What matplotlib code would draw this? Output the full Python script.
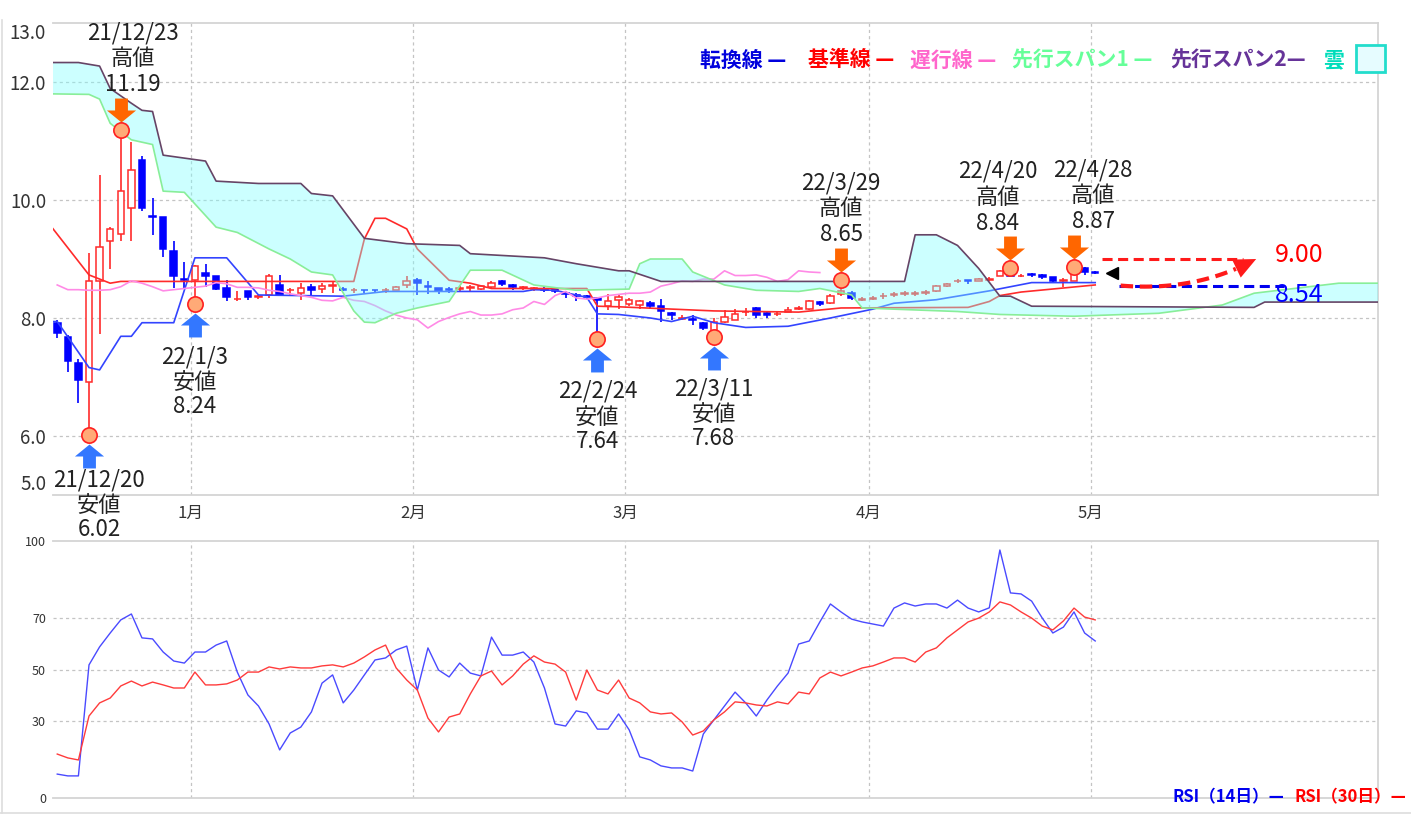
import numpy as np
import pandas as pd
import matplotlib
matplotlib.use("Agg")
import matplotlib.pyplot as plt
from matplotlib.path import Path
from matplotlib import transforms
from matplotlib.patches import Rectangle, Polygon
from matplotlib.lines import Line2D

plt.rcParams['font.family'] = ['Noto Sans CJK JP', 'DejaVu Sans']

# ---------------- data ----------------
start_date = '2021-12-15'
opens = [7.92, 7.68, 7.23, 6.91, 8.63, 9.31, 9.43, 9.87, 10.68, 9.73,
         9.71, 9.13, 8.66, 8.64, 8.77, 8.72, 8.50, 8.32, 8.45, 8.36,
         8.39, 8.56, 8.47, 8.42, 8.52, 8.50, 8.55, 8.49, 8.47, 8.48,
         8.48, 8.47, 8.47, 8.56, 8.64, 8.54, 8.50, 8.49, 8.49, 8.51,
         8.50, 8.52, 8.63, 8.56, 8.51, 8.50, 8.49, 8.49, 8.42, 8.39,
         8.38, 8.34, 8.20, 8.30, 8.24, 8.22, 8.25, 8.21, 8.08, 7.99,
         7.98, 7.92, 7.73, 7.93, 7.97, 8.10, 8.17, 8.08, 8.06, 8.10,
         8.16, 8.16, 8.27, 8.25, 8.40, 8.42, 8.31, 8.33, 8.37, 8.39,
         8.41, 8.41, 8.43, 8.45, 8.54, 8.62, 8.64, 8.63, 8.65, 8.72,
         8.81, 8.71, 8.74, 8.73, 8.69, 8.63, 8.63, 8.84, 8.78]
highs = [7.96, 7.72, 7.30, 9.10, 10.42, 9.54, 11.19, 10.99, 10.74, 10.04,
         9.71, 9.31, 8.95, 8.90, 8.91, 8.72, 8.64, 8.45, 8.45, 8.39,
         8.74, 8.73, 8.50, 8.59, 8.58, 8.59, 8.63, 8.52, 8.51, 8.48,
         8.48, 8.50, 8.55, 8.71, 8.67, 8.62, 8.51, 8.53, 8.54, 8.56,
         8.55, 8.62, 8.65, 8.58, 8.55, 8.53, 8.52, 8.50, 8.45, 8.42,
         8.39, 8.35, 8.41, 8.41, 8.34, 8.31, 8.29, 8.32, 8.10, 8.05,
         8.05, 7.94, 8.00, 8.14, 8.16, 8.17, 8.18, 8.11, 8.10, 8.18,
         8.20, 8.30, 8.29, 8.40, 8.65, 8.46, 8.36, 8.38, 8.42, 8.44,
         8.46, 8.46, 8.48, 8.56, 8.60, 8.66, 8.65, 8.67, 8.69, 8.81,
         8.84, 8.74, 8.76, 8.75, 8.70, 8.67, 8.87, 8.87, 8.79]
lows = [7.66, 7.08, 6.56, 6.02, 7.73, 8.83, 9.31, 9.31, 9.82, 9.40,
        9.03, 8.50, 8.50, 8.24, 8.53, 8.47, 8.29, 8.28, 8.31, 8.33,
        8.34, 8.39, 8.39, 8.31, 8.39, 8.42, 8.42, 8.45, 8.42, 8.42,
        8.42, 8.42, 8.47, 8.50, 8.39, 8.40, 8.40, 8.42, 8.45, 8.46,
        8.48, 8.49, 8.54, 8.47, 8.47, 8.46, 8.44, 8.43, 8.34, 8.29,
        8.33, 7.64, 8.14, 8.15, 8.20, 8.16, 8.16, 7.94, 7.97, 7.96,
        7.88, 7.80, 7.68, 7.92, 7.97, 8.04, 8.00, 8.00, 8.03, 8.10,
        8.13, 8.14, 8.20, 8.24, 8.38, 8.30, 8.28, 8.30, 8.33, 8.35,
        8.37, 8.38, 8.39, 8.44, 8.53, 8.60, 8.58, 8.62, 8.63, 8.71,
        8.70, 8.69, 8.70, 8.66, 8.60, 8.52, 8.62, 8.73, 8.74]
closes = [7.75, 7.27, 6.95, 8.62, 9.20, 9.51, 10.15, 10.50, 9.86, 9.71,
          9.17, 8.72, 8.64, 8.88, 8.72, 8.49, 8.35, 8.33, 8.35, 8.37,
          8.71, 8.39, 8.48, 8.51, 8.48, 8.54, 8.56, 8.48, 8.48, 8.47,
          8.47, 8.48, 8.53, 8.63, 8.59, 8.53, 8.46, 8.48, 8.50, 8.52,
          8.54, 8.60, 8.58, 8.52, 8.52, 8.51, 8.47, 8.45, 8.41, 8.38,
          8.35, 8.30, 8.29, 8.35, 8.30, 8.28, 8.21, 8.12, 8.05, 8.00,
          7.97, 7.83, 7.94, 8.01, 8.07, 8.11, 8.05, 8.05, 8.07, 8.14,
          8.17, 8.28, 8.23, 8.38, 8.45, 8.34, 8.32, 8.34, 8.38, 8.40,
          8.42, 8.42, 8.44, 8.54, 8.58, 8.63, 8.62, 8.66, 8.66, 8.80,
          8.72, 8.72, 8.73, 8.69, 8.62, 8.65, 8.80, 8.78, 8.77]

# Ichimoku lines (day index, value)
tenkan_idx = [-1, 0, 3, 4, 6, 7, 8, 11, 13, 16, 19, 27, 31, 44, 45, 47, 50, 51, 53, 56,
              58, 60, 62, 65, 69, 73, 77, 79, 83, 88, 92, 98]
tenkan_val = [7.94, 7.94, 7.16, 7.12, 7.69, 7.69, 7.92, 7.92, 9.02, 9.02, 8.39, 8.37, 8.45, 8.45,
              8.48, 8.47, 8.35, 8.07, 8.06, 8.00, 7.94, 8.03, 7.92, 7.84, 7.86, 8.00, 8.15, 8.25,
              8.31, 8.46, 8.60, 8.60]
kijun_idx = [-1, 3, 5, 6, 28, 29, 30, 31, 33, 34, 37, 39, 41, 50, 51, 53, 62, 70, 74, 86,
             88, 89, 91, 98]
kijun_val = [9.65, 8.73, 8.59, 8.62, 8.62, 9.34, 9.69, 9.69, 9.51, 9.17, 8.64, 8.59, 8.50, 8.50,
             8.20, 8.19, 8.12, 8.10, 8.17, 8.18, 8.28, 8.38, 8.44, 8.56]
spanA_idx = [-1, 3, 4, 5, 7, 9, 10, 12, 15, 17, 20, 22, 24, 26, 28, 29, 30, 32, 34, 37,
             39, 42, 45, 49, 54, 55, 56, 59, 60, 63, 66, 70, 72, 75, 76, 85, 89, 96, 104, 110,
             113, 121, 125]
spanA_val = [11.80, 11.79, 11.71, 11.30, 11.02, 10.94, 10.15, 10.13, 9.54, 9.45, 9.17, 9.00,
             8.78, 8.73, 8.12, 7.93, 7.92, 8.08, 8.17, 8.28, 8.81, 8.81, 8.56, 8.47, 8.49, 8.92,
             9.00, 9.00, 8.78, 8.56, 8.47, 8.45, 8.50, 8.39, 8.17, 8.11, 8.06, 8.03, 8.08, 8.22,
             8.42, 8.59, 8.59]
spanB_idx = [-1, 2, 4, 5, 7, 8, 9, 10, 12, 14, 15, 19, 23, 24, 26, 29, 33, 38, 39, 46,
             49, 53, 54, 57, 80, 81, 83, 85, 87, 89, 90, 92, 113, 114, 125]
spanB_val = [12.33, 12.33, 12.27, 11.89, 11.64, 11.52, 11.50, 10.76, 10.71, 10.66, 10.32, 10.28,
             10.28, 10.11, 10.07, 9.35, 9.26, 9.23, 9.09, 9.02, 8.92, 8.80, 8.80, 8.62, 8.62,
             9.41, 9.41, 9.23, 8.84, 8.37, 8.37, 8.20, 8.18, 8.27, 8.27]
chikou_shift = 26

rsi14 = [9.3, 8.6, 8.6, 51.8, 58.8, 64.2, 69.3, 71.6, 62.3, 61.9,
         56.8, 53.3, 52.5, 56.8, 56.8, 59.5, 61.1, 49.0, 40.1, 35.8,
         28.8, 18.7, 25.3, 27.6, 33.5, 44.7, 47.9, 37.0, 42.0, 47.9,
         53.7, 54.5, 57.6, 59.1, 42.0, 58.4, 49.8, 47.1, 52.5, 48.6,
         47.5, 62.6, 55.6, 55.6, 56.8, 52.9, 42.8, 28.8, 28.0, 33.9,
         33.1, 26.8, 26.8, 32.7, 26.5, 16.0, 14.8, 12.5, 11.7, 11.7,
         10.5, 24.9, 30.4, 35.8, 41.2, 37.0, 31.9, 38.1, 43.6, 48.6,
         59.9, 61.1, 68.5, 75.5, 72.4, 69.6, 68.5, 67.7, 66.9, 73.9,
         75.9, 74.7, 75.5, 75.5, 73.9, 77.0, 73.9, 72.4, 74.0, 96.5,
         79.8, 79.4, 76.6, 70.0, 64.2, 66.5, 72.4, 64.2, 61.1]
rsi30 = [17.1, 15.6, 14.8, 31.9, 37.0, 38.9, 43.6, 45.5, 43.6, 45.1,
         44.0, 42.8, 42.8, 49.0, 44.0, 44.0, 44.4, 45.9, 49.0, 49.0,
         51.0, 50.2, 51.0, 50.6, 50.6, 51.4, 51.8, 51.0, 52.5, 54.9,
         57.6, 59.5, 50.6, 45.9, 42.0, 31.1, 25.7, 31.5, 32.7, 40.5,
         47.5, 49.4, 44.0, 47.5, 52.1, 55.3, 52.9, 52.1, 49.0, 38.1,
         49.8, 42.0, 40.5, 45.9, 38.9, 37.0, 33.5, 32.7, 33.1, 29.6,
         24.5, 26.1, 30.4, 33.5, 37.4, 37.0, 36.2, 35.8, 37.4, 36.6,
         41.2, 40.5, 46.7, 49.0, 47.5, 49.0, 50.6, 51.4, 52.9, 54.5,
         54.5, 52.9, 56.8, 58.4, 62.3, 65.4, 68.5, 70.0, 72.4, 76.3,
         75.1, 72.4, 70.0, 66.9, 65.4, 68.9, 73.9, 70.4, 69.3]

high_dates = ['21/12/23', '22/3/29', '22/4/20', '22/4/28']
high_vals = [11.19, 8.65, 8.84, 8.87]
low_dates = ['21/12/20', '22/1/3', '22/2/24', '22/3/11']
low_vals = [6.02, 8.24, 7.64, 7.68]

forecast_high = 9.00
forecast_low = 8.54

month_labels = ['1月', '2月', '3月', '4月', '5月']
price_ticks = [5, 6, 8, 10, 12, 13]
price_grid = [6, 8, 10, 12]
rsi_ticks = [0, 30, 50, 70, 100]
rsi_grid = [30, 50, 70]

# ---------------- figure ----------------
W, H = 1411, 822
fig = plt.figure(figsize=(W / 100, H / 100), dpi=100)
fig.patch.set_facecolor('white')

def fx(px):
    return px / W

def fy(py):
    return 1 - py / H

ax = fig.add_axes([fx(53), fy(495), fx(1378) - fx(53), fy(23) - fy(495)])
rx = fig.add_axes([fx(53), fy(798), fx(1378) - fx(53), fy(541) - fy(798)])

n = len(closes)
idx = np.arange(n)
o = np.array(opens); h = np.array(highs); l = np.array(lows); c = np.array(closes)
dates = pd.bdate_range(start_date, periods=n)

XLIM = (-0.4, 124.7)
for a in (ax, rx):
    a.set_xlim(*XLIM)
    a.set_facecolor('white')
    a.spines['left'].set_visible(False)
    for s in ('top', 'bottom', 'right'):
        a.spines[s].set_color('#d4d4d4')
        a.spines[s].set_linewidth(1.3)
    a.tick_params(length=0)

ax.set_ylim(5, 13)
rx.set_ylim(0, 100)

# month grid positions (just before first trading day of each month)
month_first = []
for k in range(1, n):
    if dates[k].month != dates[k - 1].month:
        month_first.append(k)
month_pos = [k - 0.4 for k in month_first]

grid_kw = dict(color='#c4c4c4', lw=0.9, ls=(0, (2.5, 2.5)), zorder=1)
for g in price_grid:
    ax.axhline(g, **grid_kw)
for g in rsi_grid:
    rx.axhline(g, **grid_kw)
for mp in month_pos:
    ax.axvline(mp, **grid_kw)
    rx.axvline(mp, **grid_kw)

# candles
up = c >= o
ecol = np.where(up, '#ff2a2a', '#0000ff')
fcol = np.where(up, '#ffffff', '#0000ff')
ax.vlines(idx, l, h, colors=ecol, lw=1.2, zorder=2)
body = np.maximum(np.abs(c - o), 0.004)
ax.bar(idx, body, bottom=np.minimum(o, c), width=0.62, color=fcol,
       edgecolor=ecol, linewidth=1.1, zorder=3)

# ichimoku lines
ax.plot(tenkan_idx, tenkan_val, color='#3344ff', lw=1.2, zorder=3.5)
ax.plot(kijun_idx, kijun_val, color='#ff2a2a', lw=1.2, zorder=3.5)
ax.plot(idx[chikou_shift:] - chikou_shift, c[chikou_shift:], color='#ff8ae6', lw=1.2, zorder=3.5)

# cloud
ax.fill(np.r_[spanA_idx, spanB_idx[::-1]], np.r_[spanA_val, spanB_val[::-1]],
        color='#80ffff', alpha=0.4, lw=0, zorder=4)
ax.plot(spanA_idx, spanA_val, color='#88ee99', lw=1.2, zorder=5)
ax.plot(spanB_idx, spanB_val, color='#664466', lw=1.2, zorder=5)

# markers / arrows / labels
down_arrow = Path([(-0.22, 0.41), (0.22, 0.41), (0.22, 0.0), (0.5, 0.0), (0.0, -0.41),
                   (-0.5, 0.0), (-0.22, 0.0), (-0.22, 0.41)],
                  [Path.MOVETO] + [Path.LINETO] * 6 + [Path.CLOSEPOLY])
up_arrow = Path([(x, -y) for x, y in down_arrow.vertices], down_arrow.codes)

tr_up = transforms.offset_copy(ax.transData, fig=fig, x=0, y=20, units='dots')
tr_dn = transforms.offset_copy(ax.transData, fig=fig, x=0, y=-21, units='dots')

def pos_of(dstr):
    d = pd.Timestamp('20' + dstr.replace('/', '-'))
    return int(dates.get_loc(d))

lab_kw = dict(textcoords='offset pixels', ha='center', va='center', fontsize=16,
              color='#222222', annotation_clip=False, zorder=8)

high_dx = [12, 0, -13, 19]
for dstr, v, dx in zip(high_dates, high_vals, high_dx):
    x = pos_of(dstr)
    ax.plot(x, v, marker=down_arrow, ms=21, color='#ff6600', mec='none', ls='none',
            transform=tr_up, zorder=7, clip_on=False)
    ax.plot(x, v, 'o', ms=11, mfc='#ffaa77', mec='#ff2020', mew=1.2, zorder=7, clip_on=False)
    ax.annotate(f'{v:.2f}', (x, v), xytext=(dx, 45), **lab_kw)
    ax.annotate('高値', (x, v), xytext=(dx, 71), **lab_kw)
    ax.annotate(dstr, (x, v), xytext=(dx, 97), **lab_kw)

low_dx = [10, 0, 0, 0]
low_dy = [-45, -53, -52, -52]
for dstr, v, dx, dy in zip(low_dates, low_vals, low_dx, low_dy):
    x = pos_of(dstr)
    ax.plot(x, v, marker=up_arrow, ms=21, color='#3377ff', mec='none', ls='none',
            transform=tr_dn, zorder=7, clip_on=False)
    ax.plot(x, v, 'o', ms=11, mfc='#ffaa77', mec='#ff2020', mew=1.2, zorder=7, clip_on=False)
    ax.annotate(dstr, (x, v), xytext=(dx, dy), **lab_kw)
    ax.annotate('安値', (x, v), xytext=(dx, dy - 26), **lab_kw)
    ax.annotate(f'{v:.2f}', (x, v), xytext=(dx, dy - 50), **lab_kw)

# forecast decoration
last = n - 1
ax.plot(last + 1.6, c[-1], marker='<', color='black', ms=9, zorder=8)
ax.hlines(forecast_high, last + 0.6, last + 14.0, colors='#ff1a1a', lw=2.2,
          linestyles=(0, (3.3, 1.8)), zorder=8)
ax.hlines(forecast_low, last + 2.2, last + 17.8, colors='#0000ee', lw=2.2,
          linestyles=(0, (3.3, 1.8)), zorder=8)
t = np.linspace(0, 1, 80)
P0 = np.array([last + 2.4, forecast_low + 0.01])
P1 = np.array([last + 9.5, forecast_low - 0.10])
P2 = np.array([last + 15.2, forecast_high])
bez = ((1 - t) ** 2)[:, None] * P0 + (2 * (1 - t) * t)[:, None] * P1 + (t ** 2)[:, None] * P2

# arrow head built in pixel space, converted back to data space
bez_px = ax.transData.transform(bez)
tip = bez_px[-1]
dist = np.hypot(*(bez_px - tip).T)
head_len, head_half = 22.0, 10.0
cut = np.where(dist >= head_len)[0][-1]
dvec = tip - bez_px[cut]
dvec /= np.linalg.norm(dvec)
nvec = np.array([-dvec[1], dvec[0]])
base = tip - dvec * head_len
tri_px = np.array([tip, base + nvec * head_half, base - nvec * head_half])
tri = ax.transData.inverted().transform(tri_px)
ax.plot(bez[:cut + 1, 0], bez[:cut + 1, 1], color='#ff1a1a', lw=3, ls=(0, (3, 1.6)),
        zorder=8, solid_capstyle='butt', clip_on=False)
ax.add_patch(Polygon(tri, closed=True, facecolor='#ff1a1a', edgecolor='none', zorder=8,
                     clip_on=False))

ax.annotate(f'{forecast_high:.2f}', (last + 17, forecast_high), xytext=(0, 4),
            textcoords='offset pixels', ha='left', va='center', fontsize=18, color='#ff0000',
            annotation_clip=False, zorder=9)
ax.annotate(f'{forecast_low:.2f}', (last + 17, forecast_low), xytext=(0, -9),
            textcoords='offset pixels', ha='left', va='center', fontsize=18, color='#0000ff',
            annotation_clip=False, zorder=9)

# ticks
ax.set_yticks(price_ticks)
ax.set_yticklabels([f'{v:.1f}' for v in price_ticks], fontsize=13.5, color='#333333')
ylabs = ax.get_yticklabels()
ylabs[0].set_va('bottom')
ylabs[-1].set_va('top')
ax.tick_params(axis='y', pad=5)
ax.set_xticks(month_pos)
ax.set_xticklabels(month_labels, fontsize=12, color='#333333')
ax.tick_params(axis='x', pad=7)

rx.set_xticks([])
rx.set_yticks(rsi_ticks)
rx.set_yticklabels([str(v) for v in rsi_ticks], fontsize=9, color='#333333')
rx.tick_params(axis='y', pad=5)

# RSI lines
rx.plot(idx, rsi14, color='#4a4aff', lw=1.0, zorder=3)
rx.plot(idx, rsi30, color='#ff3b3b', lw=1.0, zorder=3)

# legends
leg_items = [("転換線 —", '#0000dd', 700), ("基準線 —", '#ff0000', 808),
             ("遅行線 —", '#ff66cc', 910), ("先行スパン1 —", '#66ff99', 1012),
             ("先行スパン2—", '#663399', 1170), ("雲", '#00ddbb', 1323)]
for txt, col, xp in leg_items:
    fig.text(fx(xp), fy(60), txt, color=col, fontsize=15, fontweight='bold',
             ha='left', va='center')
fig.patches.append(Rectangle((fx(1356), fy(72)), fx(29), 27 / H, transform=fig.transFigure,
                             facecolor='#e6fcff', edgecolor='#22ddcc', lw=2))

fig.text(fx(1172), fy(797), "RSI（14日）—", color='#0000ee', fontsize=12, fontweight='bold',
         ha='left', va='center')
fig.text(fx(1295), fy(797), "RSI（30日）—", color='#ff0000', fontsize=12, fontweight='bold',
         ha='left', va='center')

# figure border
fig.add_artist(Line2D([fx(1.5), fx(1.5)], [fy(20), fy(813)], color='#dddddd', lw=1.2))
fig.add_artist(Line2D([0, 1], [fy(813), fy(813)], color='#dddddd', lw=1.2))

fig.savefig('out.png', dpi=100, facecolor='white')
